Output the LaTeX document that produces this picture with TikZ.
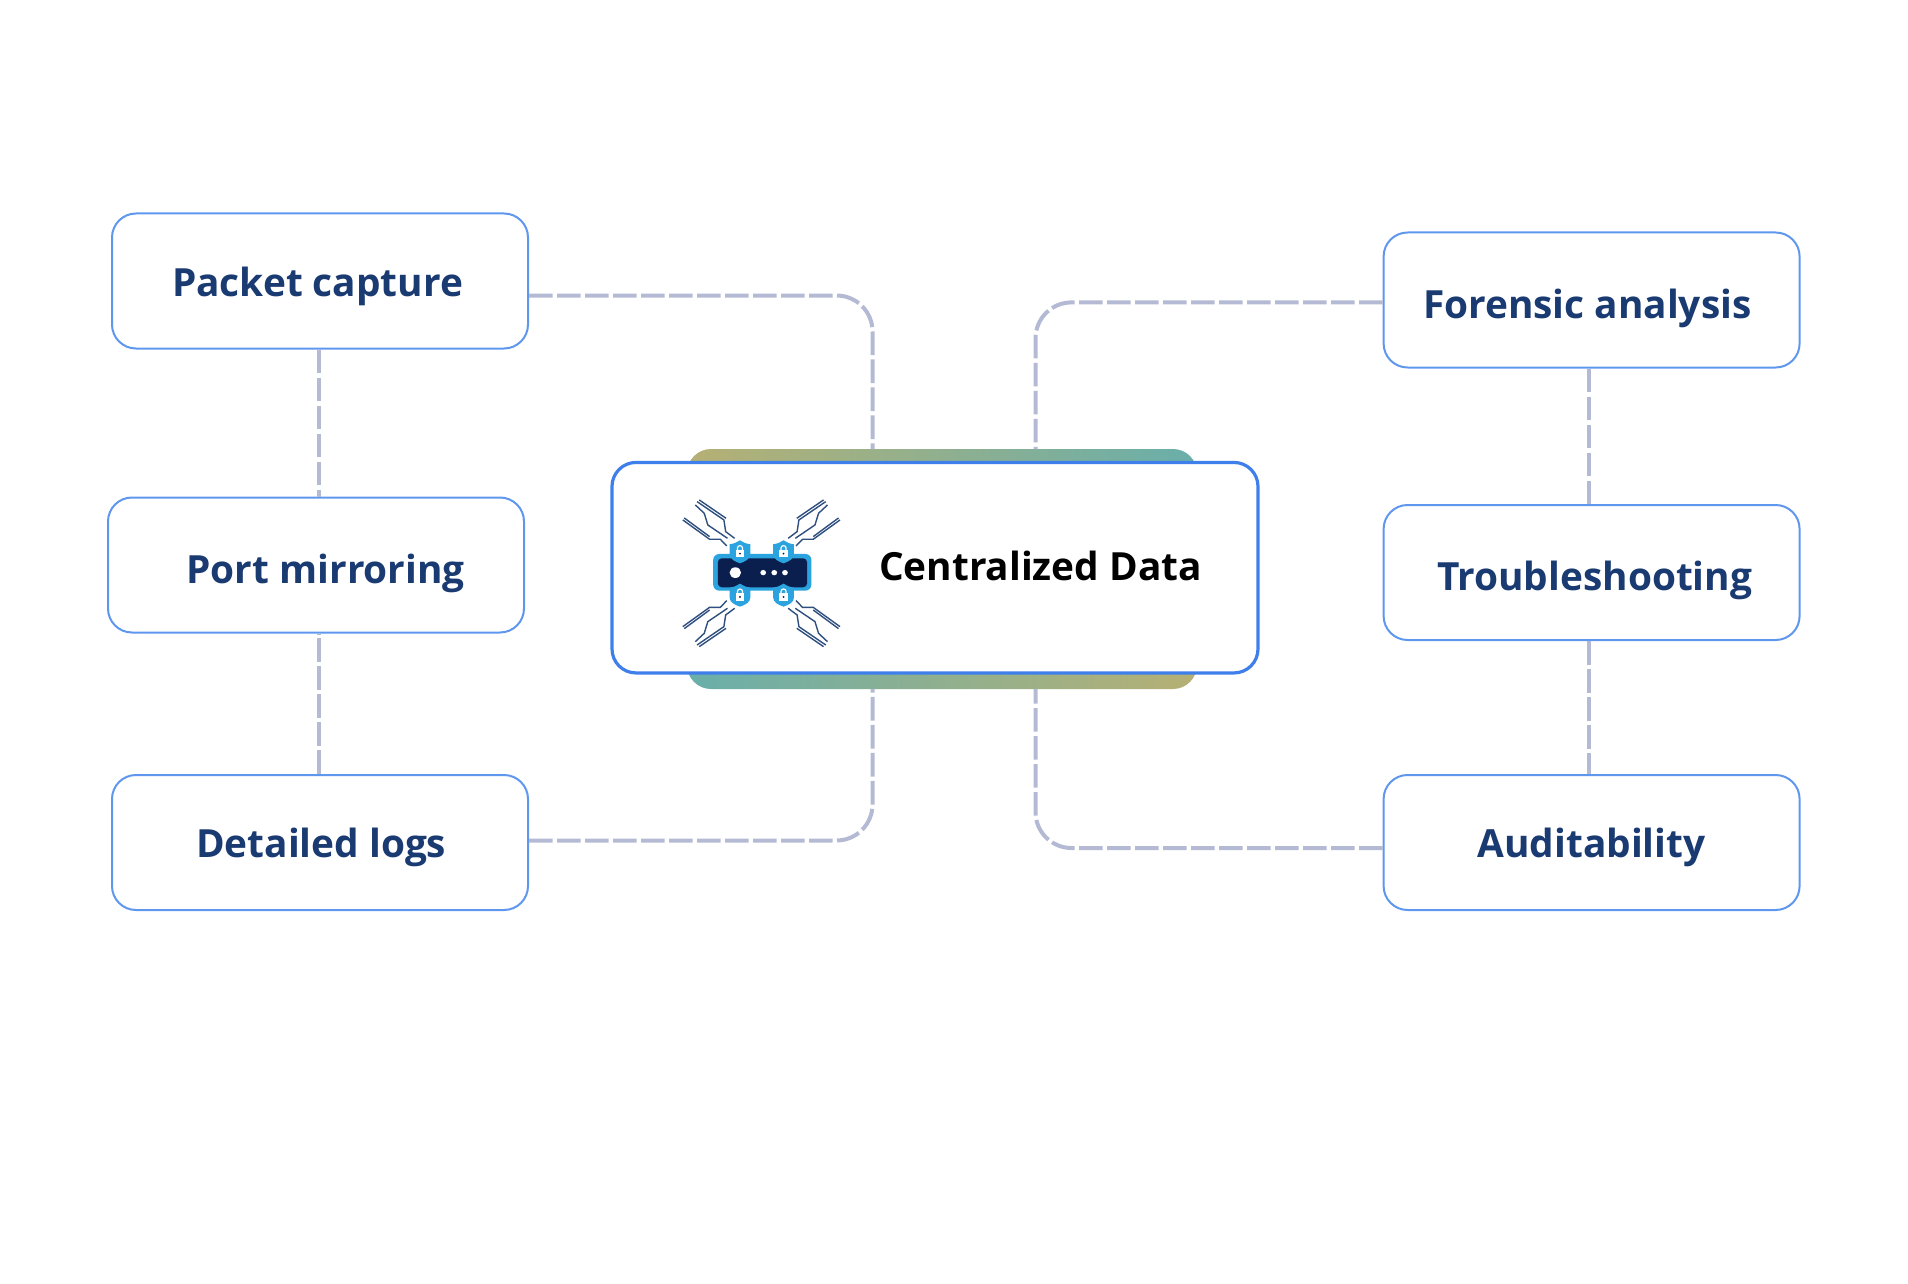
\documentclass[tikz,border=0pt]{standalone}
\usepackage{fontspec}
\setmainfont{Open Sans}
\definecolor{boxline}{HTML}{5F97EE}
\definecolor{mainline}{HTML}{3F7FEC}
\definecolor{linkgray}{HTML}{B4BAD4}
\definecolor{navytext}{HTML}{1A3A72}
\definecolor{olive}{HTML}{B6B074}
\definecolor{teal2}{HTML}{69AFAA}
\definecolor{shieldblue}{HTML}{2BA3DF}
\definecolor{chipdark}{HTML}{0A1F4E}
\definecolor{tracecol}{HTML}{2F4F7F}
\tikzset{
  infobox/.style={draw=boxline,line width=1pt,fill=white,rounded corners=12pt,minimum width=208pt,minimum height=67.5pt,inner sep=0pt,text=navytext,font=\fontsize{19.4}{23}\selectfont\bfseries,text height=14.7pt,text depth=0pt},
  mainbox/.style={draw=mainline,line width=1.6pt,fill=white,rounded corners=12pt,minimum width=323pt,minimum height=105.25pt,inner sep=0pt},
  glowbar/.style={rounded corners=12pt,minimum width=255pt,minimum height=30pt,inner sep=0pt},
  linkline/.style={draw=linkgray,line width=2pt,dash pattern=on 11.8pt off 2.2pt,rounded corners=18pt},
  vlink/.style={draw=linkgray,line width=1.8pt,dash pattern=on 11.8pt off 2.2pt},
  trace/.style={draw=tracecol,line width=0.7pt},
}
\begin{document}
\begin{tikzpicture}[x=0.5pt,y=-0.5pt]
  \useasboundingbox (0,0) rectangle (1908,1284);
  % back bars
  \node [glowbar,left color=olive,right color=teal2] (glowtop) at (942,479) {};
  \node [glowbar,left color=teal2,right color=olive] (glowbot) at (942,659) {};
  \coordinate (endtl) at (872.5,449);
  \coordinate (endtr) at (1035.5,449);
  \coordinate (endbl) at (872.5,689);
  \coordinate (endbr) at (1035.5,689);
  % boxes
  \node [infobox,text height=15.9pt] (packet) at (320,281) {Packet capture\kern2.4pt};
  \node [infobox,text height=18.3pt] (port) at (316,565) {\hspace{9.7pt}Port mirroring};
  \node [infobox] (logs) at (320,842.5) {\hspace{1.2pt}Detailed logs};
  \node [infobox,text height=18.3pt] (forensic) at (1591.6,300) {Forensic analysis\kern4.3pt};
  \node [infobox,text height=17.7pt] (trouble) at (1591.6,572.5) {\hspace{3pt}Troubleshooting};
  \node [infobox] (audit) at (1591.6,842.5) {Auditability};
  % dashed links
  \draw [linkline] ([yshift=-7.25pt]packet.east) -| (endtl);
  \draw [linkline] ([yshift=1pt]logs.east) -| (endbl);
  \draw [linkline] ([yshift=-1.2pt]forensic.west) -| (endtr);
  \draw [linkline] ([yshift=-2.75pt]audit.west) -| (endbr);
  \draw [vlink] ([xshift=-0.6pt]packet.south) -- ([xshift=-0.6pt]packet.south |- port.north);
  \draw [vlink] ([xshift=-0.6pt]logs.north) -- ([xshift=-0.6pt]logs.north |- port.south);
  \draw [vlink] ([xshift=-1.3pt]forensic.south) -- ([xshift=-1.3pt]forensic.south |- trouble.north);
  \draw [vlink] ([xshift=-1.3pt]trouble.south) -- ([xshift=-1.3pt]trouble.south |- audit.north);
  % main box
  \node [mainbox] (central) at (935,567.7) {};
  \node [font=\fontsize{19.4}{23}\selectfont\bfseries,text=black,inner sep=0pt,anchor=base] (centraltext) at (1040.5,580.7) {Centralized Data};
  % icon
  \begin{scope}[shift={(761.4,573.3)},x=0.1786pt,y=-0.1667pt]
    \foreach \sx/\sy in {1/1,-1/1,1/-1,-1/-1} {
      \begin{scope}[xscale=\sx,yscale=\sy]
        \draw [trace] (-180,215) -- (-105,160) -- (-100,125) -- (-75,105);
        \draw [trace] (-174,220) -- (-99,165);
        \draw [trace] (-185,205) -- (-160,180) -- (-150,145) -- (-95,105);
        \draw [trace] (-220,160) -- (-145,102) -- (-115,102) -- (-97,82);
        \draw [trace] (-216,166) -- (-145,110);
      \end{scope}
    }
    \fill [shieldblue,rounded corners=3pt] (-135,-58) rectangle (140,52);
    \fill [chipdark,rounded corners=2pt] (-122,-45) rectangle (128,42);
    \fill [white] (-73,-2) circle (16);
    \foreach \dotx in {5,36,66} {
      \fill [white] (\dotx,-2) circle (8);
    }
    \foreach \shx/\shy in {-60/-65,62/-65,-60/65,62/65} {
      \begin{scope}[shift={(\shx,\shy)}]
        \fill [shieldblue] (0,35) .. controls (14,30) and (29,22) .. (29,8) -- (29,-22) .. controls (16,-24) and (8,-28) .. (0,-34) .. controls (-8,-28) and (-16,-24) .. (-29,-22) -- (-29,8) .. controls (-29,22) and (-14,30) .. (0,35) -- cycle;
        \fill [white] (-12,-5) rectangle (12,17);
        \draw [white,line width=0.6pt] (-7,-5) -- (-7,-11) arc (180:360:7) -- (7,-5);
        \fill [chipdark] (0,6) circle (3);
      \end{scope}
    }
  \end{scope}
\end{tikzpicture}
\end{document}
